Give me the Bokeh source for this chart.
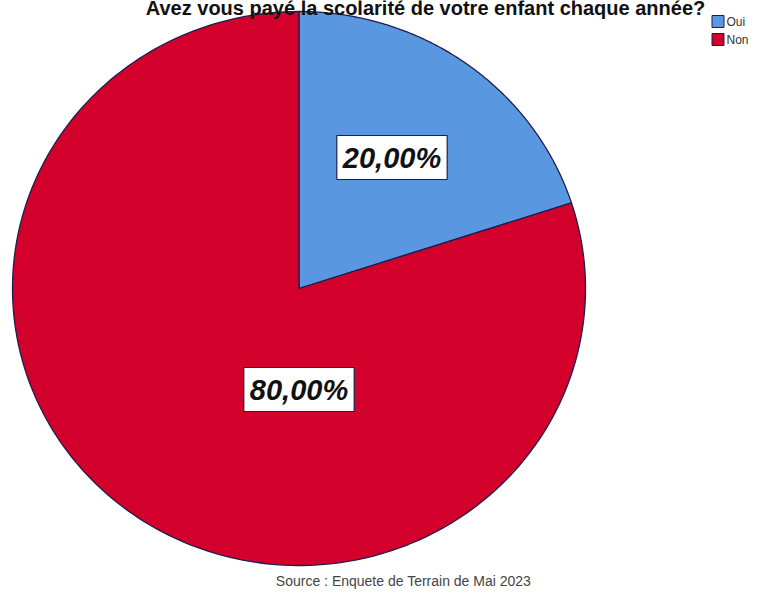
import numpy as np
from bokeh.plotting import figure
from bokeh.models import Range1d, Label, ColumnDataSource
from bokeh.core.properties import value
from bokeh.embed import file_html
from bokeh.resources import INLINE

# ---- data ----
categories = ["Oui", "Non"]
percentages = [20.0, 80.0]
colors = ["#5A97E1", "#D3002C"]
title_text = "Avez vous payé la scolarité de votre enfant chaque année?"
source_text = "Source : Enquete de Terrain de Mai 2023"

# ---- layout constants (canvas pixels) ----
W, H = 763, 592
CX, CY = 298.5, 288.0
RX, RY = 286.5, 277.0
# label offsets relative to pie centre (pixels)
label_offsets = [(93, -131), (0, 101)]

p = figure(width=W, height=H, output_backend="svg", toolbar_location=None,
           x_range=Range1d(0, W), y_range=Range1d(H, 0),
           min_border=0, outline_line_color=None)
p.axis.visible = False
p.grid.visible = False
p.background_fill_color = "white"
p.border_fill_color = "white"

# pie slices as elliptical patches computed from the values
total = sum(percentages)
start = 90.0
xs_list, ys_list = [], []
for v in percentages:
    sweep = 360.0 * v / total
    th = np.radians(np.linspace(start, start - sweep, 240))
    xs = np.concatenate([[CX], CX + RX * np.cos(th), [CX]])
    ys = np.concatenate([[CY], CY - RY * np.sin(th), [CY]])
    xs_list.append(list(xs))
    ys_list.append(list(ys))
    start -= sweep

src = ColumnDataSource(dict(xs=xs_list, ys=ys_list, color=colors, cat=categories))
p.patches("xs", "ys", source=src, fill_color="color", line_color="#1E1E50",
          line_width=1.3)

# percentage labels
for v, (dx, dy) in zip(percentages, label_offsets):
    txt = f"{v:.2f}".replace(".", ",") + "%"
    p.add_layout(Label(x=CX + dx, y=CY + dy, text=txt,
                       text_font="Liberation Sans", text_font_style="bold italic",
                       text_font_size="29px", text_color="#111111",
                       text_align="center", text_baseline="middle",
                       background_fill_color="white",
                       border_line_color="#1E1E50", border_line_width=1.2,
                       padding=6))

# legend (manual)
leg_y = [21, 39]
p.rect(x=[717.5] * len(categories), y=leg_y, width=12, height=12,
       fill_color=colors, line_color="#1E1E50", line_width=1)
p.text(x=[726] * len(categories), y=leg_y, text=categories,
       text_font=value("Liberation Sans"), text_font_size="12px",
       text_color="#333333", text_baseline="middle", text_align="left")

# title (sits at the very top, as in the reference)
p.text(x=[425], y=[7], text=[title_text],
       text_font=value("Liberation Sans"), text_font_style="bold",
       text_font_size="20px", text_color="#111111",
       text_align="center", text_baseline="alphabetic")

# source note
p.text(x=[403], y=[580], text=[source_text],
       text_font=value("Liberation Sans"), text_font_size="14px",
       text_color="#444444", text_align="center", text_baseline="middle")

open("out.html", "w").write(file_html(p, INLINE))
